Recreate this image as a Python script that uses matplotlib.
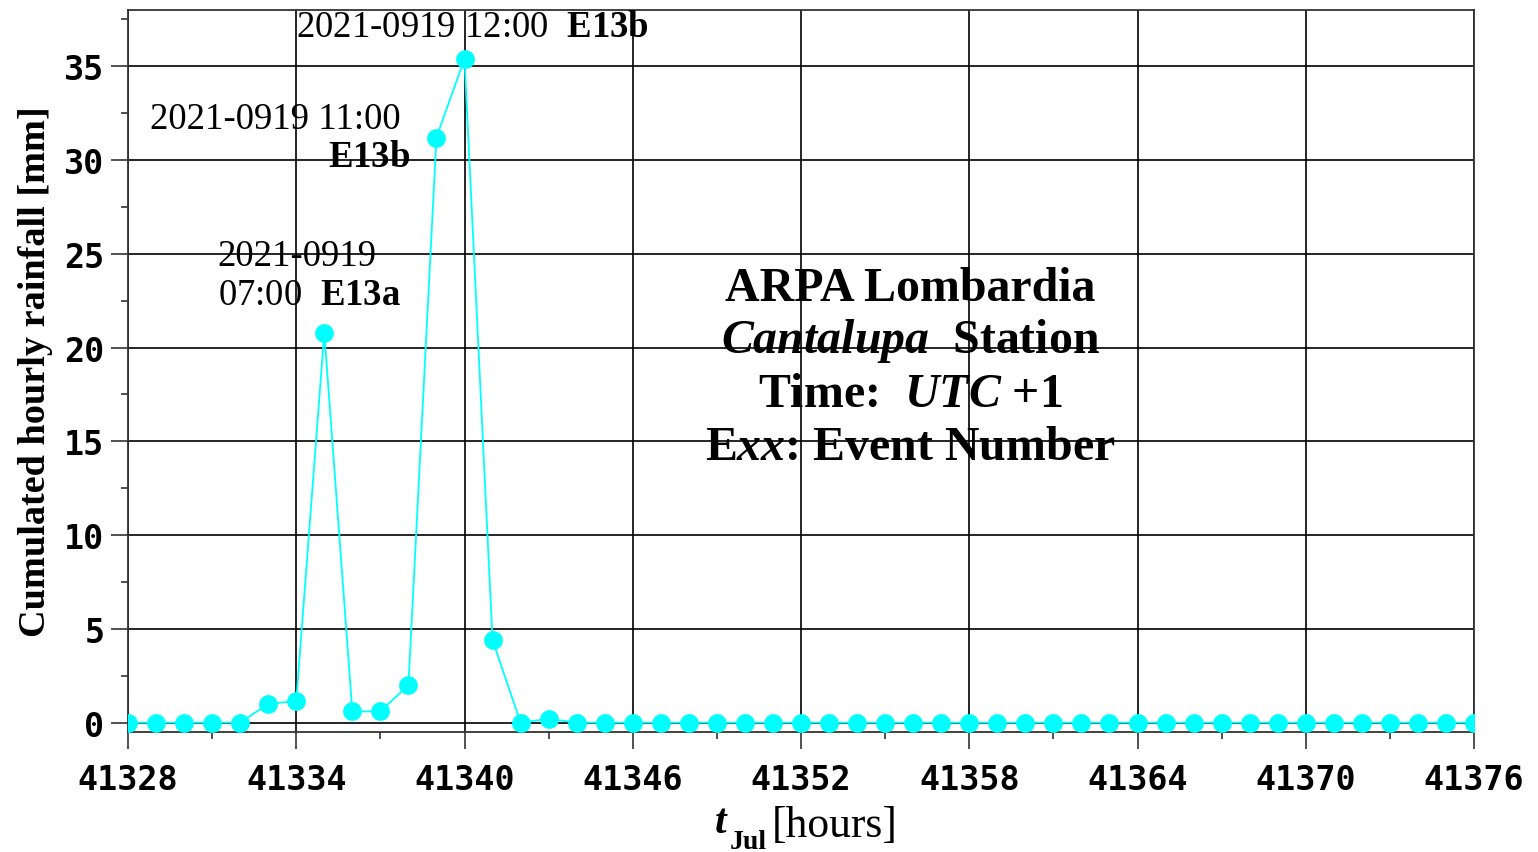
import matplotlib
matplotlib.use("Agg")
import matplotlib.pyplot as plt
from matplotlib.ticker import MultipleLocator

plt.rcParams['mathtext.fontset'] = 'custom'
plt.rcParams['mathtext.rm'] = 'Liberation Serif'
plt.rcParams['mathtext.it'] = 'Liberation Serif:italic:bold'
plt.rcParams['mathtext.bf'] = 'Liberation Serif:bold'

hours = list(range(41328, 41377))
rain = [0, 0, 0, 0, 0, 1.0, 1.15, 20.8, 0.6, 0.6, 2.0, 31.2, 35.4, 4.4, 0, 0.2] + [0] * 33

xticks = [41328, 41334, 41340, 41346, 41352, 41358, 41364, 41370, 41376]
yticks = [0, 5, 10, 15, 20, 25, 30, 35]

W, H = 1538, 853
fig = plt.figure(figsize=(W / 100, H / 100), dpi=100)
ax = fig.add_axes([128 / W, 1 - 733 / H, (1474 - 128) / W, (733 - 11) / H])

ax.plot(hours, rain, color='#00ffff', lw=1.3, marker='o', ms=12.5, mec='#00ffff', mfc='#00ffff', clip_on=True, zorder=3)

ax.set_xlim(41328, 41376)
ax.set_ylim(-0.5, 38)
ax.set_xticks(xticks)
ax.set_yticks(yticks)
ax.xaxis.set_minor_locator(MultipleLocator(3))
ax.yaxis.set_minor_locator(MultipleLocator(2.5))
ax.grid(True, which='major', color='black', lw=1.2)
ax.set_axisbelow(True)
ax.tick_params(axis='both', which='major', direction='out', length=12, width=1.2, color='#333333')
ax.tick_params(axis='both', which='minor', direction='out', length=5, width=1.2, color='#333333')
for lab in ax.get_xticklabels() + ax.get_yticklabels():
    lab.set_fontfamily('DejaVu Sans Mono')
    lab.set_fontsize(24)
    lab.set_fontweight('bold')
ax.tick_params(axis='x', pad=10)
ax.tick_params(axis='y', pad=5)
for s in ax.spines.values():
    s.set_color('#333333')
    s.set_linewidth(1.3)

ax.set_ylabel('Cumulated hourly rainfall [mm]', fontfamily='Liberation Serif',
              fontweight='bold', fontsize=27.5, labelpad=8)

# x label built from pieces (pixel positions in figure)
def ftext(x, y, s, **kw):
    fig.text(x / W, 1 - y / H, s, fontfamily='Liberation Serif', va='baseline', ha='left', **kw)

ftext(715, 833, 't', fontsize=30, fontstyle='italic', fontweight='bold')
ftext(730, 849, 'Jul', fontsize=20, fontweight='bold')
ftext(772, 837, '[hours]', fontsize=31.5)

af = dict(fontfamily='Liberation Serif', fontsize=26.5, va='center')
ax.text(41334.0, 37.1, r'2021-0919 12:00  $\mathbf{E13b}$', ha='left', **af)
ax.text(41328.8, 32.2, '2021-0919 11:00', ha='left', **af)
ax.text(41338.05, 30.15, r'$\mathbf{E13b}$', ha='right', **af)
ax.text(41331.2, 24.9, '2021-0919', ha='left', **af)
ax.text(41331.2, 22.8, r'07:00  $\mathbf{E13a}$', ha='left', **af)

cf = dict(fontfamily='Liberation Serif', fontsize=34.5, fontweight='bold', ha='center', va='center')
cx = 41355.9
ax.text(cx, 23.2, 'ARPA Lombardia', **cf)
ax.text(cx, 20.4, r'$\mathit{Cantalupa}$  Station', **cf)
ax.text(cx, 17.5, r'Time:  $\mathit{UTC}$ +1', **cf)
ax.text(cx, 14.7, r'E$\mathit{xx}$: Event Number', **cf)

fig.savefig('out.png', dpi=100)
